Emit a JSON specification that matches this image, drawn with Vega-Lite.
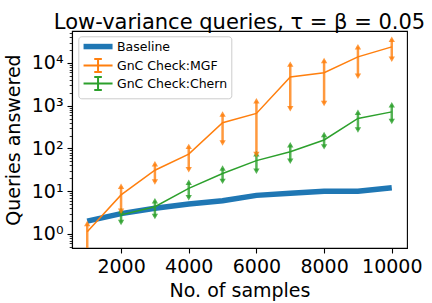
{
  "$schema": "https://vega.github.io/schema/vega-lite/v6.json",
  "width": 335,
  "height": 217,
  "autosize": {"type": "none"},
  "padding": {"left": 72, "top": 31, "right": 25, "bottom": 55},
  "title": {"text": "Low-variance queries, τ = β = 0.05", "fontSize": 21, "font": "DejaVu Sans", "fontWeight": "normal", "anchor": "middle", "offset": -30, "baseline": "bottom", "color": "black"},
  "config": {
    "font": "DejaVu Sans",
    "view": {"stroke": "black", "strokeWidth": 1.1},
    "axis": {"domainColor": "black", "domainWidth": 1.1, "tickColor": "black", "tickWidth": 1.1, "tickSize": 5, "labelFontSize": 19, "labelColor": "black", "labelFont": "DejaVu Sans", "titleFontSize": 19, "titleFontWeight": "normal", "titleColor": "black", "titleFont": "DejaVu Sans", "grid": false, "labelPadding": 4}
  },
  "data": {"values": [
    {"samples": 1000, "method": "Baseline", "value": 2},
    {"samples": 2000, "method": "Baseline", "value": 3},
    {"samples": 3000, "method": "Baseline", "value": 4},
    {"samples": 4000, "method": "Baseline", "value": 5},
    {"samples": 5000, "method": "Baseline", "value": 6},
    {"samples": 6000, "method": "Baseline", "value": 8},
    {"samples": 7000, "method": "Baseline", "value": 9},
    {"samples": 8000, "method": "Baseline", "value": 10},
    {"samples": 9000, "method": "Baseline", "value": 10},
    {"samples": 10000, "method": "Baseline", "value": 12},
    {"samples": 1000, "method": "GnC Check:MGF", "value": 1.13, "lo": 0.1, "hi": 1.75},
    {"samples": 2000, "method": "GnC Check:MGF", "value": 8.2, "lo": 3.4, "hi": 13},
    {"samples": 3000, "method": "GnC Check:MGF", "value": 31, "lo": 16.5, "hi": 44},
    {"samples": 4000, "method": "GnC Check:MGF", "value": 74, "lo": 32, "hi": 112},
    {"samples": 5000, "method": "GnC Check:MGF", "value": 400, "lo": 135, "hi": 640},
    {"samples": 6000, "method": "GnC Check:MGF", "value": 660, "lo": 72, "hi": 1300},
    {"samples": 7000, "method": "GnC Check:MGF", "value": 4700, "lo": 850, "hi": 9400},
    {"samples": 8000, "method": "GnC Check:MGF", "value": 5900, "lo": 1130, "hi": 11500},
    {"samples": 9000, "method": "GnC Check:MGF", "value": 13900, "lo": 4900, "hi": 24000},
    {"samples": 10000, "method": "GnC Check:MGF", "value": 23800, "lo": 12300, "hi": 36000},
    {"samples": 2000, "method": "GnC Check:Chern", "value": 2.8, "lo": 1.85, "hi": 3.5},
    {"samples": 3000, "method": "GnC Check:Chern", "value": 4.35, "lo": 2.55, "hi": 6.0},
    {"samples": 4000, "method": "GnC Check:Chern", "value": 11.7, "lo": 7.0, "hi": 16.2},
    {"samples": 5000, "method": "GnC Check:Chern", "value": 26, "lo": 17, "hi": 35},
    {"samples": 6000, "method": "GnC Check:Chern", "value": 52, "lo": 29.5, "hi": 75},
    {"samples": 7000, "method": "GnC Check:Chern", "value": 84, "lo": 50, "hi": 122},
    {"samples": 8000, "method": "GnC Check:Chern", "value": 158, "lo": 109, "hi": 212},
    {"samples": 9000, "method": "GnC Check:Chern", "value": 505, "lo": 270, "hi": 700},
    {"samples": 10000, "method": "GnC Check:Chern", "value": 718, "lo": 430, "hi": 1060}
  ]},
  "encoding": {
    "x": {"field": "samples", "type": "quantitative", "scale": {"domain": [550, 10450], "nice": false, "zero": false},
      "axis": {"title": "No. of samples", "values": [2000, 4000, 6000, 8000, 10000], "format": "d", "titlePadding": 5, "labelFlush": false}},
    "color": {"field": "method", "type": "nominal",
      "scale": {"domain": ["Baseline", "GnC Check:MGF", "GnC Check:Chern"], "range": ["#1f77b4", "#ff7f0e", "#2ca02c"]},
      "legend": {"orient": "none", "legendX": 6.3, "legendY": 5.3, "title": null, "labelFontSize": 12.5, "labelFont": "DejaVu Sans", "labelColor": "black",
        "symbolSize": 64, "symbolStrokeWidth": 2, "symbolOffset": 9.5, "labelOffset": 12.7, "rowPadding": -4, "padding": 4,
        "fillColor": "rgba(255,255,255,0.8)", "strokeColor": "#cccccc", "cornerRadius": 3, "symbolType": "stroke",
        "encode": {"symbols": {"update": {
          "shape": {"signal": "datum.value === 'Baseline' ? 'M-3.625,0H3.625' : 'M-3.625,0H3.625M0,-1.625V1.625M-0.95,-1.625H0.95M-0.95,1.625H0.95'"},
          "strokeWidth": {"signal": "datum.value === 'Baseline' ? 5.5 : 2"},
          "fill": {"value": "transparent"},
          "opacity": {"value": 1}
        }}}}}
  },
  "layer": [
    {
      "transform": [{"filter": "datum.method === 'Baseline'"}],
      "mark": {"type": "line", "strokeWidth": 5.5, "clip": true},
      "encoding": {
        "y": {"field": "value", "type": "quantitative",
          "scale": {"type": "log", "domain": [0.47, 56000], "nice": false},
          "axis": {"title": "Queries answered", "titlePadding": 8, "labelOverlap": false, "labelFlush": false,
            "values": [0.5, 0.6, 0.7, 0.8, 0.9, 1, 2, 3, 4, 5, 6, 7, 8, 9, 10, 20, 30, 40, 50, 60, 70, 80, 90, 100, 200, 300, 400, 500, 600, 700, 800, 900, 1000, 2000, 3000, 4000, 5000, 6000, 7000, 8000, 9000, 10000, 20000, 30000, 40000, 50000],
            "labelExpr": "abs(log(datum.value)/LN10 - round(log(datum.value)/LN10)) < 0.001 ? '10' + ['⁰','¹','²','³','⁴'][round(log(datum.value)/LN10)] : ''",
            "tickSize": {"condition": {"test": "abs(log(datum.value)/LN10 - round(log(datum.value)/LN10)) < 0.001", "value": 5}, "value": 2.8},
            "tickWidth": {"condition": {"test": "abs(log(datum.value)/LN10 - round(log(datum.value)/LN10)) < 0.001", "value": 1.1}, "value": 0.8}
          }}
      }
    },
    {
      "transform": [{"filter": "datum.method !== 'Baseline'"}],
      "mark": {"type": "rule", "strokeWidth": 2.5, "opacity": 0.8, "clip": true},
      "encoding": {"y": {"field": "lo", "type": "quantitative"}, "y2": {"field": "hi"}}
    },
    {
      "transform": [{"filter": "datum.method !== 'Baseline'"}],
      "mark": {"type": "point", "shape": "triangle-up", "filled": true, "size": 40, "opacity": 0.8, "clip": true},
      "encoding": {"y": {"field": "hi", "type": "quantitative"}}
    },
    {
      "transform": [{"filter": "datum.method !== 'Baseline'"}],
      "mark": {"type": "point", "shape": "triangle-down", "filled": true, "size": 40, "opacity": 0.8, "clip": true},
      "encoding": {"y": {"field": "lo", "type": "quantitative"}}
    },
    {
      "transform": [{"filter": "datum.method !== 'Baseline'"}],
      "mark": {"type": "line", "strokeWidth": 1.5, "clip": true},
      "encoding": {"y": {"field": "value", "type": "quantitative"}}
    }
  ]
}
